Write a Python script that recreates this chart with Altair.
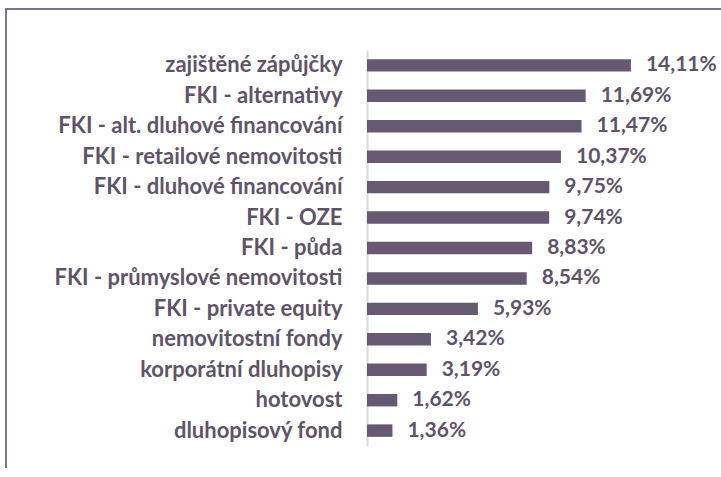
import altair as alt
import pandas as pd

categories = [
    "zajištěné zápůjčky",
    "FKI - alternativy",
    "FKI - alt. dluhové financování",
    "FKI - retailové nemovitosti",
    "FKI - dluhové financování",
    "FKI - OZE",
    "FKI - půda",
    "FKI - průmyslové nemovitosti",
    "FKI - private equity",
    "nemovitostní fondy",
    "korporátní dluhopisy",
    "hotovost",
    "dluhopisový fond",
]
values = [14.11, 11.69, 11.47, 10.37, 9.75, 9.74, 8.83, 8.54, 5.93, 3.42, 3.19, 1.62, 1.36]

df = pd.DataFrame({"cat": categories, "val": values})
df["label"] = [f"{v:.2f}".replace(".", ",") + "%" for v in values]

BAR = "#655a71"
TXT = "#5f5369"
FONT = "Lato"

base = alt.Chart(df)

bars = base.mark_bar(color=BAR).encode(
    y=alt.Y("cat:N", sort=categories, title=None,
            scale=alt.Scale(paddingInner=0.59, paddingOuter=0.3),
            axis=alt.Axis(labelFont=FONT, labelFontSize=22, labelFontWeight="bold",
                          labelColor=TXT, ticks=False, labelPadding=25,
                          domainColor="#d9d9d9", domainWidth=2, labelLimit=400)),
    x=alt.X("val:Q", scale=alt.Scale(domain=[0, 18.5], nice=False), axis=None),
)

text = base.mark_text(align="left", dx=15, font=FONT, fontSize=21,
                      fontWeight="bold", color=TXT).encode(
    y=alt.Y("cat:N", sort=categories),
    x=alt.X("val:Q"),
    text="label:N",
)

frame_left = alt.Chart(df).mark_rule(color="#7d7389", strokeWidth=2).encode(
    x=alt.value(-361), y=alt.value(-41), y2=alt.value(440))
frame_top = alt.Chart(df).mark_rule(color="#7d7389", strokeWidth=2).encode(
    x=alt.value(-362), x2=alt.value(354), y=alt.value(-41))

chart = alt.layer(bars, text, frame_left, frame_top).properties(
    width=346, height=396,
    autosize=alt.AutoSizeParams(type="none"),
    padding={"left": 367, "top": 50, "right": 8, "bottom": 22},
).configure(background="white").configure_view(stroke="transparent", strokeWidth=0)

chart.save("out.html", embed_options={"renderer": "svg", "actions": False})
